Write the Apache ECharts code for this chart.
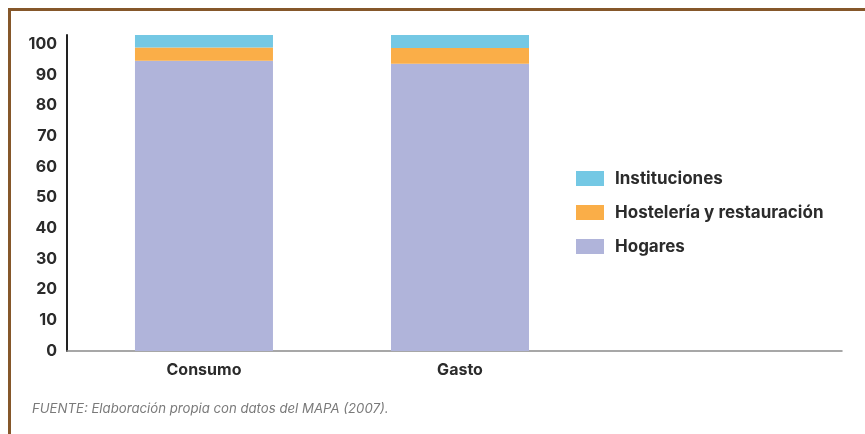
<!DOCTYPE html>
<html>
<head>
<meta charset="utf-8">
<script src="https://cdn.jsdelivr.net/npm/echarts@6/dist/echarts.min.js"></script>
<style>
  html, body { margin: 0; padding: 0; background: #fff; }
  #wrap { position: relative; width: 865px; height: 434px; }
  #main { width: 865px; height: 434px; }
  #frame {
    position: absolute; left: 8px; top: 8px; right: 0; bottom: 0;
    border-top: 3px solid #85572a; border-left: 3px solid #85572a;
    pointer-events: none;
  }
</style>
</head>
<body>
<div id="wrap">
  <div id="main"></div>
  <div id="frame"></div>
</div>
<script>
// Values (percent)
const categories = ['Consumo', 'Gasto'];
const hogares = [94.6, 93.6];
const hosteleria = [4.3, 5.2];
const instituciones = [4.1, 4.2];
const yTicks = [0, 10, 20, 30, 40, 50, 60, 70, 80, 90, 100];
const source = 'FUENTE: Elaboración propia con datos del MAPA (2007).';

const font = 'Inter, "Noto Sans", sans-serif';

// top of the axis sits at the tallest stack
const totals = categories.map((c, i) => hogares[i] + hosteleria[i] + instituciones[i]);
const yMax = Math.max(...totals);

// value first so the stack runs on y, position second
const toPoints = (arr) => arr.map((v, i) => [v, i]);

const makeBar = (name, color, values) => ({
  name: name,
  type: 'bar',
  stack: 'total',
  barWidth: 138,
  encode: { x: 1, y: 0 },
  itemStyle: { color: color },
  data: toPoints(values)
});

const chart = echarts.init(document.getElementById('main'));
chart.setOption({
  animation: false,
  title: {
    text: source,
    left: 27,
    top: 398,
    textStyle: {
      fontFamily: font,
      fontSize: 13.2,
      fontStyle: 'italic',
      fontWeight: 'normal',
      color: '#7a7a7a'
    }
  },
  legend: {
    orient: 'vertical',
    left: 571,
    top: 165,
    itemWidth: 28,
    itemHeight: 15,
    itemGap: 17,
    icon: 'rect',
    data: ['Instituciones', 'Hostelería y restauración', 'Hogares'],
    textStyle: {
      fontFamily: font,
      fontSize: 17,
      fontWeight: 'bold',
      color: '#2b2b2b',
      padding: [0, 0, 0, 6]
    }
  },
  grid: { left: 67, right: 23, top: 35, bottom: 83 },
  xAxis: {
    type: 'value',
    min: -0.535,
    max: 2.492,
    splitLine: { show: false },
    axisTick: { show: false },
    axisLine: { show: true, onZero: false, lineStyle: { color: '#8a8a8a', width: 1.5 } },
    axisLabel: {
      customValues: categories.map((c, i) => i),
      formatter: (v) => categories[v] ?? '',
      margin: 11,
      fontFamily: font,
      fontSize: 16,
      fontWeight: 'bold',
      color: '#2b2b2b'
    }
  },
  yAxis: {
    type: 'value',
    min: 0,
    max: yMax,
    splitLine: { show: false },
    axisTick: { show: false },
    axisLine: { show: true, onZero: false, lineStyle: { color: '#222', width: 2 } },
    axisLabel: {
      customValues: yTicks,
      margin: 10,
      fontFamily: font,
      fontSize: 16,
      fontWeight: 'bold',
      color: '#2b2b2b'
    }
  },
  series: [
    makeBar('Hogares', '#b0b4da', hogares),
    makeBar('Hostelería y restauración', '#faae48', hosteleria),
    makeBar('Instituciones', '#74c8e4', instituciones)
  ]
});
</script>
</body>
</html>
